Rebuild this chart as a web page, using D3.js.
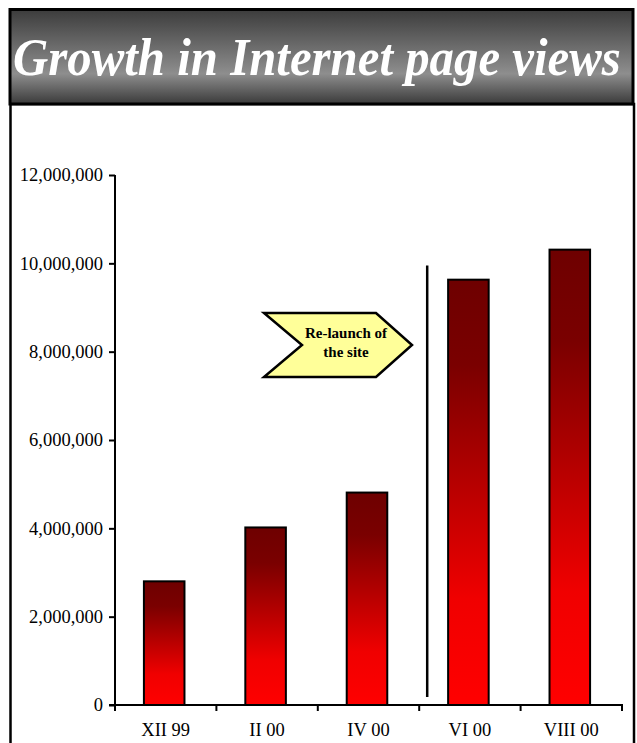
<!DOCTYPE html>
<html>
<head>
<meta charset="utf-8">
<script src="https://cdn.jsdelivr.net/npm/d3@7"></script>
<style>
  html, body { margin: 0; padding: 0; background: #fff; }
  svg { display: block; }
</style>
</head>
<body>
<svg id="chart" width="637" height="743"></svg>
<script>
const title = "Growth in Internet page views";
const categories = ["XII 99", "II 00", "IV 00", "VI 00", "VIII 00"];
const pageViews = [2800000, 4020000, 4810000, 9630000, 10310000];
const yTicks = [0, 2000000, 4000000, 6000000, 8000000, 10000000, 12000000];
const calloutLines = ["Re-launch of", "the site"];
const relaunchAfter = "IV 00";

const svg = d3.select("#chart");
const defs = svg.append("defs");

// gradients
const tg = defs.append("linearGradient").attr("id", "titleGrad")
  .attr("x1", 0).attr("y1", 0).attr("x2", 0).attr("y2", 1);
tg.append("stop").attr("offset", "0%").attr("stop-color", "#3c3c3c");
tg.append("stop").attr("offset", "68%").attr("stop-color", "#8e8e8e");
tg.append("stop").attr("offset", "100%").attr("stop-color", "#3a3a3a");

const bg = defs.append("linearGradient").attr("id", "barGrad")
  .attr("x1", 0).attr("y1", 0).attr("x2", 0).attr("y2", 1);
bg.append("stop").attr("offset", "0%").attr("stop-color", "#6e0000");
bg.append("stop").attr("offset", "20%").attr("stop-color", "#7a0000");
bg.append("stop").attr("offset", "75%").attr("stop-color", "#f00000");
bg.append("stop").attr("offset", "100%").attr("stop-color", "#ff0000");

// panel
svg.append("rect").attr("x", 10.5).attr("y", 104).attr("width", 623.5).attr("height", 660)
  .attr("fill", "#fff").attr("stroke", "#000").attr("stroke-width", 2.5);

// title box
svg.append("rect").attr("x", 10).attr("y", 9.5).attr("width", 623).attr("height", 94.5)
  .attr("fill", "url(#titleGrad)").attr("stroke", "#000").attr("stroke-width", 3);
const titleText = svg.append("text")
  .attr("font-family", "Liberation Serif, Times New Roman, serif")
  .attr("font-weight", "bold").attr("font-style", "italic")
  .attr("font-size", 53).attr("fill", "#fff")
  .text(title);
const natural = titleText.node().getComputedTextLength();
const sx = Math.min(1, 608 / natural);
titleText.attr("transform", `translate(13,75) scale(${sx},1)`);

// scales
const x = d3.scaleBand().domain(categories).range([115, 622]).paddingInner(0.6).paddingOuter(0.3);
const xTickScale = d3.scaleBand().domain(categories).range([115, 622]).padding(0);
const y = d3.scaleLinear().domain([0, 12000000]).range([705, 175]);

const fontFam = "Liberation Serif, Times New Roman, serif";

// y axis
const yAxis = svg.append("g").attr("transform", "translate(115,0)")
  .call(d3.axisLeft(y).tickValues(yTicks).tickFormat(d3.format(",")).tickSize(6).tickPadding(6));
yAxis.select(".domain").attr("stroke-width", 2).attr("d", "M0,175V705");
yAxis.selectAll(".tick line").attr("stroke-width", 2);
yAxis.selectAll("text").attr("font-family", fontFam).attr("font-size", 18.5).attr("fill", "#000");

// bars
svg.append("g").selectAll("rect").data(pageViews).join("rect")
  .attr("x", (d, i) => x(categories[i]) - 1.5)
  .attr("width", x.bandwidth())
  .attr("y", d => y(d))
  .attr("height", d => y(0) - y(d))
  .attr("fill", "url(#barGrad)")
  .attr("stroke", "#000").attr("stroke-width", 2);

// x axis
const xg = svg.append("g").attr("transform", "translate(0,705)");
xg.append("line").attr("x1", 109).attr("x2", 623).attr("y1", 0).attr("y2", 0)
  .attr("stroke", "#000").attr("stroke-width", 2);
const boundaries = categories.map(c => xTickScale(c)).concat([xTickScale.range()[1]]);
xg.selectAll("line.t").data(boundaries).join("line").attr("class", "t")
  .attr("x1", d => d).attr("x2", d => d).attr("y1", 0).attr("y2", 6)
  .attr("stroke", "#000").attr("stroke-width", 2);
xg.selectAll("text").data(categories).join("text")
  .attr("x", d => xTickScale(d) + xTickScale.bandwidth() / 2)
  .attr("y", 31).attr("text-anchor", "middle")
  .attr("font-family", fontFam).attr("font-size", 18.5).attr("fill", "#000")
  .text(d => d);

// relaunch divider line
const idx = categories.indexOf(relaunchAfter);
const lineX = xTickScale(categories[idx + 1]) + 8;
svg.append("line").attr("x1", lineX).attr("x2", lineX)
  .attr("y1", y(9950000)).attr("y2", y(180000))
  .attr("stroke", "#000").attr("stroke-width", 2.5);

// callout chevron
const cx0 = 264, cx1 = 376, tipX = 412, notchX = 302, cyTop = 313, cyBot = 377, cyMid = 345;
svg.append("path")
  .attr("d", `M${cx0},${cyTop}L${cx1},${cyTop}L${tipX},${cyMid}L${cx1},${cyBot}L${cx0},${cyBot}L${notchX},${cyMid}Z`)
  .attr("fill", "#ffff99").attr("stroke", "#000").attr("stroke-width", 2.5);
svg.append("g").selectAll("text").data(calloutLines).join("text")
  .attr("x", 346).attr("y", (d, i) => 338 + i * 19)
  .attr("text-anchor", "middle")
  .attr("font-family", fontFam).attr("font-weight", "bold").attr("font-size", 15)
  .attr("fill", "#000")
  .text(d => d);
</script>
</body>
</html>
